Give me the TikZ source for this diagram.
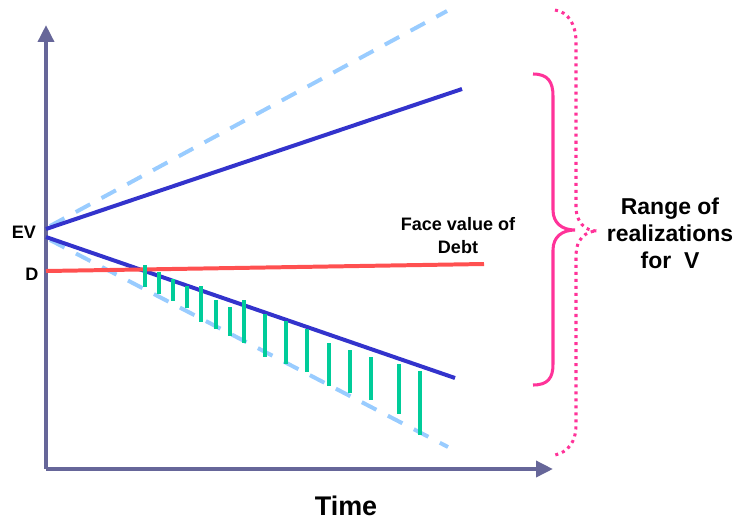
\documentclass[tikz,border=0pt]{standalone}
\usepackage{fontspec}
\setmainfont{Liberation Sans}
\usetikzlibrary{arrows.meta, positioning}
\definecolor{axisgray}{RGB}{102,102,153}
\definecolor{pathblue}{RGB}{51,51,204}
\definecolor{lightblue}{RGB}{153,204,255}
\definecolor{debtred}{RGB}{255,80,80}
\definecolor{defgreen}{RGB}{0,204,153}
\definecolor{rangepink}{RGB}{255,51,153}

\tikzset{
    axis/.style={axisgray, line width=3.4pt, -{Triangle[length=14.5pt,width=13.5pt]}},
    valpath/.style={pathblue, line width=3.4pt},
    bound/.style={lightblue, line width=3.4pt, dash pattern=on 14pt off 11pt},
    shortfall/.style={defgreen, line width=3.4pt},
    lbl/.style={font=\fontsize{15.4}{19.6}\selectfont\bfseries, align=center, inner sep=0pt}
}

\begin{document}
\begin{tikzpicture}[x=0.03cm, y=-0.03cm]
    \useasboundingbox (0,0) rectangle (737,521);

    % Axes
    \coordinate (origin) at (46,469);
    \coordinate (ytip) at (46,25);
    \coordinate (xtip) at (553,469);
    \draw[axis] (origin) -- (ytip);
    \draw[axis] (origin) -- (xtip);

    % Value paths and their bounds
    \draw[bound] (50,226) -- (447,11);
    \draw[bound] (50,240) -- (448,447);
    \draw[valpath] (46,229) -- (462,89);
    \draw[valpath] (46,237) -- (455,378);

    % Face value of debt
    \draw[debtred, line width=3.4pt] (46,271) -- (484,264);

    % Shortfall bars
    \foreach \x/\top/\bot in {145/265/287, 159/272/294, 173/279/301, 187/286/308,
        201/286/322, 216/300/329, 230/307/336, 244/300/343, 265/314/357, 286/321/364,
        307/329/372, 329/343/386, 350/350/393, 371/357/400, 399/364/414, 420/371/435} {
        \draw[shortfall] (\x,\top) -- (\x,\bot);
    }

    % Braces
    \draw[rangepink, line width=2.6pt] (533,74) .. controls (548,74) and (553,82) .. (553,96)
        -- (553,210) .. controls (553,223) and (562,230) .. (575,230)
        .. controls (562,230) and (553,237) .. (553,250)
        -- (553,364) .. controls (553,378) and (548,385) .. (533,385);
    \draw[rangepink, line width=2.6pt, dash pattern=on 2.6pt off 3.4pt]
        (555,10) .. controls (568,12) and (576,24) .. (576,42)
        -- (576,207) .. controls (576,222) and (585,231) .. (597,231)
        .. controls (585,231) and (576,240) .. (576,255)
        -- (576,425) .. controls (576,442) and (568,452) .. (555,455);

    % Labels
    \node[lbl] (ev) at (24,232) {EV};
    \node[lbl] (d) at (32,274) {D};
    \node[lbl] (facelabel) at (458,236) {Face value of\\Debt};
    \node[lbl, font=\fontsize{23}{27}\selectfont\bfseries] (timelabel) at (346,506) {Time};
    \node[lbl, font=\fontsize{19.6}{23}\selectfont\bfseries] (rangelabel) at (670,233) {Range of\\realizations\\for\ \ V};
\end{tikzpicture}
\end{document}
